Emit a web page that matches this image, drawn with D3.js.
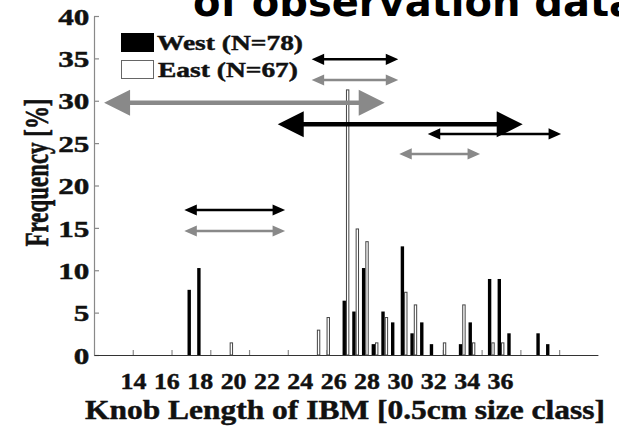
<!DOCTYPE html>
<html>
<head>
<meta charset="utf-8">
<script src="https://cdn.jsdelivr.net/npm/d3@7"></script>
<style>
  html, body { margin: 0; padding: 0; background: #fff; }
  svg { display: block; }
  .serif { font-family: "Liberation Serif", "Times New Roman", serif; font-weight: bold; fill: #111; stroke: #111; stroke-width: 0.45px; }
</style>
</head>
<body>
<svg id="chart" width="619" height="426"></svg>
<script>
// Knob length classes (0.5 cm steps) and share of specimens per region [%]
const sizeClasses = [17.0, 17.5, 19.0, 23.5, 24.0, 25.0, 25.5, 26.0, 26.5, 27.0, 27.5, 28.0,
                     28.5, 29.0, 29.5, 30.0, 31.0, 31.5, 32.5, 33.0, 33.5, 35.0, 35.5];
const westPct = [7.69, 10.26, 0, 0, 0, 6.41, 5.13, 10.26, 1.28, 5.13, 3.85, 12.82,
                 2.56, 3.85, 1.28, 0, 1.28, 3.85, 8.97, 8.97, 2.56, 2.56, 1.28];
const eastPct = [0, 0, 1.49, 2.99, 4.48, 31.34, 14.93, 13.43, 1.49, 4.48, 0, 7.46,
                 5.97, 0, 0, 1.49, 5.97, 1.49, 1.49, 1.49, 0, 0, 0];

const seriesNames = ["West (N=78)", "East (N=67)"];

// Size ranges shown as double-headed arrows (from / to in cm, level in %)
const rangeFrom   = [12.52, 23.23, 23.23, 21.48, 29.22, 27.75, 16.66, 16.66];
const rangeTo     = [27.00, 27.70, 27.70, 34.12, 36.10, 31.92, 21.86, 21.86];
const rangeLevel  = [29.77, 34.89, 32.45, 27.22, 26.08, 23.72, 17.11, 14.63];
const rangeRegion = ["East", "West", "East", "West", "West", "East", "West", "East"];
const rangeKind   = ["major", "minor", "minor", "major", "minor", "minor", "minor", "minor"];

const xTickValues = [14, 16, 18, 20, 22, 24, 26, 28, 30, 32, 34, 36];
const xTickLabels = ["14", "16", "18", "20", "22", "24", "26", "28", "30", "32", "34", "36"];
const yTickValues = [0, 5, 10, 15, 20, 25, 30, 35, 40];

const svg = d3.select("#chart");
svg.append("rect").attr("width", 619).attr("height", 426).attr("fill", "#fff");

const x = d3.scaleLinear().domain([12, 38]).range([94, 597.9]);
const y = d3.scaleLinear().domain([0, 40]).range([355, 16]);
const step = x(12.5) - x(12);
const barW = step * 0.35;

const GREY = "#898989";

// Slide heading (only its lower part lies inside the frame)
svg.append("text")
  .attr("x", 193).attr("y", 16)
  .attr("font-family", "'DejaVu Sans', Verdana, sans-serif")
  .attr("font-weight", "bold")
  .attr("font-size", 40)
  .attr("fill", "#000")
  .text("of observation data");

// Axes
const yAxis = d3.axisLeft(y).tickValues(yTickValues).tickSizeInner(-5).tickSizeOuter(0).tickPadding(3.6);
const gy = svg.append("g").attr("transform", `translate(${x(12)},0)`).call(yAxis);
gy.select(".domain").attr("stroke", GREY).attr("stroke-width", 1.2);
gy.selectAll(".tick line").attr("stroke", GREY).attr("stroke-width", 1.2);
gy.selectAll(".tick text")
  .attr("class", "serif")
  .attr("font-size", 24)
  .attr("transform", "scale(1.3,1)")
  .attr("dy", "0.34em");

const xAxis = d3.axisBottom(x).tickValues(xTickValues).tickSizeInner(-5).tickSizeOuter(0).tickFormat("");
const gx = svg.append("g").attr("transform", `translate(0,${y(0)})`).call(xAxis);
gx.select(".domain").attr("stroke", "#333").attr("stroke-width", 1.2);
gx.selectAll(".tick line").attr("stroke", GREY).attr("stroke-width", 1.2);

// X tick labels
const xLabelPos = d3.scalePoint().domain(xTickLabels).range([133.5, 500.5]);
svg.append("g").selectAll("text")
  .data(xTickLabels)
  .join("text")
  .attr("class", "serif")
  .attr("font-size", 24)
  .attr("text-anchor", "middle")
  .attr("transform", d => `translate(${xLabelPos(d)},389) scale(1.08,1)`)
  .text(d => d);

// Axis titles
svg.append("text")
  .attr("class", "serif")
  .attr("font-size", 26.5)
  .attr("x", 85).attr("y", 419)
  .attr("textLength", 520)
  .attr("lengthAdjust", "spacingAndGlyphs")
  .text("Knob Length of IBM [0.5cm size class]");

svg.append("text")
  .attr("class", "serif")
  .attr("font-size", 24)
  .attr("text-anchor", "middle")
  .attr("textLength", 148)
  .attr("lengthAdjust", "spacingAndGlyphs")
  .attr("transform", "translate(48,172.5) rotate(-90) scale(1,1.38)")
  .text("Frequency [%]");

// Bars: West (black) left of each class position, East (white) right of it
const rows = sizeClasses.map((c, i) => ({ c, west: westPct[i], east: eastPct[i] }));
const bars = svg.append("g");
bars.selectAll("rect.west")
  .data(rows.filter(d => d.west > 0))
  .join("rect")
  .attr("class", "west")
  .attr("x", d => x(d.c) - barW)
  .attr("width", barW)
  .attr("y", d => y(d.west))
  .attr("height", d => y(0) - y(d.west))
  .attr("fill", "#000");
bars.selectAll("rect.east")
  .data(rows.filter(d => d.east > 0))
  .join("rect")
  .attr("class", "east")
  .attr("x", d => x(d.c) + 0.5)
  .attr("width", barW - 1)
  .attr("y", d => y(d.east) + 0.5)
  .attr("height", d => y(0) - y(d.east) - 0.5)
  .attr("fill", "#fff")
  .attr("stroke", "#444")
  .attr("stroke-width", 1);

// Range arrows
const arrowStyle = {
  major: { shaft: 4.6, head: 26, half: 13 },
  minor: { shaft: 2.4, head: 12.5, half: 5.6 }
};
function arrowPath(x1, x2, yy, s) {
  const w = s.shaft / 2;
  return `M${x1},${yy} L${x1 + s.head},${yy - s.half} L${x1 + s.head},${yy - w} ` +
         `L${x2 - s.head},${yy - w} L${x2 - s.head},${yy - s.half} L${x2},${yy} ` +
         `L${x2 - s.head},${yy + s.half} L${x2 - s.head},${yy + w} L${x1 + s.head},${yy + w} ` +
         `L${x1 + s.head},${yy + s.half} Z`;
}
const ranges = rangeFrom.map((f, i) => ({
  from: f, to: rangeTo[i], level: rangeLevel[i], region: rangeRegion[i], kind: rangeKind[i]
}));
svg.append("g").selectAll("path")
  .data(ranges)
  .join("path")
  .attr("d", d => arrowPath(x(d.from), x(d.to), y(d.level), arrowStyle[d.kind]))
  .attr("fill", d => d.region === "West" ? "#000" : GREY);

// Legend
const legend = svg.append("g");
legend.append("rect").attr("x", 121).attr("y", 33).attr("width", 33).attr("height", 19).attr("fill", "#000");
legend.append("rect").attr("x", 121.5).attr("y", 60.5).attr("width", 32).attr("height", 18)
  .attr("fill", "#fff").attr("stroke", "#666").attr("stroke-width", 1);
legend.append("text").attr("class", "serif").attr("font-size", 21)
  .attr("x", 157).attr("y", 50).attr("textLength", 146).attr("lengthAdjust", "spacingAndGlyphs")
  .text(seriesNames[0]);
legend.append("text").attr("class", "serif").attr("font-size", 21)
  .attr("x", 158).attr("y", 77).attr("textLength", 140).attr("lengthAdjust", "spacingAndGlyphs")
  .text(seriesNames[1]);
</script>
</body>
</html>
